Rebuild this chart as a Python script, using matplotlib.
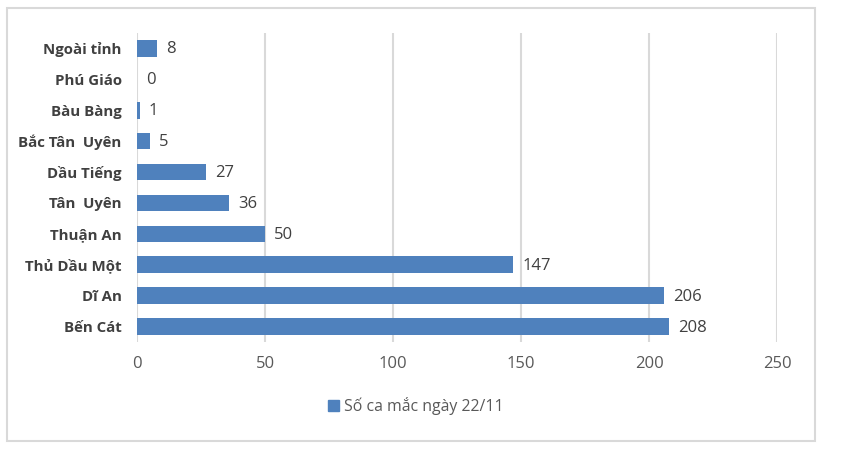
import matplotlib
matplotlib.use("Agg")
import matplotlib.pyplot as plt
from matplotlib.patches import Rectangle, Patch

plt.rcParams['font.family'] = ['Open Sans', 'DejaVu Sans']

categories = ["Bến Cát", "Dĩ An", "Thủ Dầu Một", "Thuận An", "Tân  Uyên",
              "Dầu Tiếng", "Bắc Tân  Uyên", "Bàu Bàng", "Phú Giáo", "Ngoài tỉnh"]
values = [208, 206, 147, 50, 36, 27, 5, 1, 0, 8]
xticks = [0, 50, 100, 150, 200, 250]
series_name = "Số ca mắc ngày 22/11"

bar_color = "#4f81bd"
text_color = "#404040"
grid_color = "#d9d9d9"

fig = plt.figure(figsize=(8.46, 4.68), dpi=100)
ax = fig.add_axes([137/846, 1-342/468, 640/846, 309/468])

y = list(range(len(categories)))
ax.barh(y, values, height=0.54, color=bar_color, zorder=3)
for yi, v in zip(y, values):
    ax.annotate(str(v), (v, yi), xytext=(9, -1), textcoords="offset pixels",
                va="center", ha="left", fontsize=12, color=text_color)

ax.set_xlim(0, 250)
ax.set_ylim(-0.5, len(categories) - 0.5)
ax.set_xticks(xticks)
ax.set_xticklabels([str(t) for t in xticks])
ax.set_yticks(y)
ax.set_yticklabels(categories, fontweight="bold")
ax.tick_params(axis="y", length=0, pad=11, labelsize=10.8, labelcolor=text_color)
ax.tick_params(axis="x", length=0, pad=10, labelsize=12, labelcolor="#595959")
ax.grid(axis="x", color=grid_color, linewidth=1.5, zorder=0)
for s in ax.spines.values():
    s.set_visible(False)

fig.legend(handles=[Patch(color=bar_color, label=series_name)],
           loc="center", bbox_to_anchor=(416/846, 1-406/468), frameon=False,
           fontsize=11.4, handlelength=0.7, handleheight=0.7, handletextpad=0.3,
           labelcolor="#595959")

fig.patches.append(Rectangle((7/846, 1-441/468), 808/846, 433/468,
                             transform=fig.transFigure, fill=False,
                             edgecolor=grid_color, linewidth=1.5))

fig.savefig("out.png", dpi=100)
